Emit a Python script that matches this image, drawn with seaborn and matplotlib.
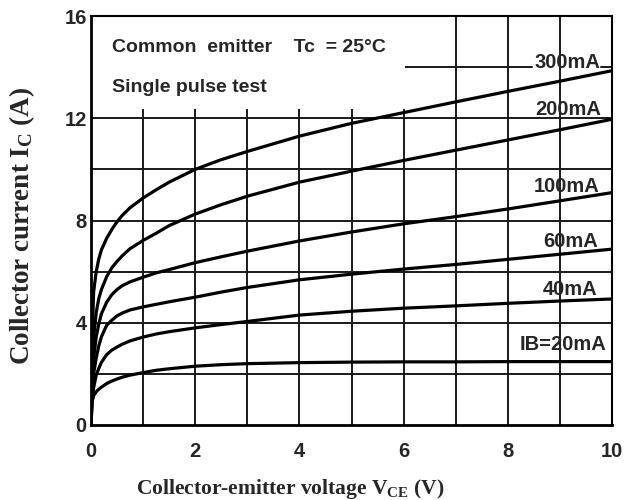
import matplotlib as mpl
mpl.use('Agg')

import numpy as np
import pandas as pd
import seaborn as sns
import matplotlib.pyplot as plt
from matplotlib.patches import Rectangle

# collector-emitter voltage (V)
vce = [0, 0.02, 0.05, 0.1, 0.15, 0.2, 0.3, 0.4, 0.5, 0.6, 0.75, 1, 1.25, 1.5, 2, 2.5, 3,
       4, 5, 6, 7, 8, 9, 10]

# collector current (A) for each base current
ic_20 = [0, 0.9, 1.15, 1.3, 1.4, 1.48, 1.62, 1.72, 1.8, 1.87, 1.95, 2.05, 2.14, 2.2, 2.3, 2.36, 2.4,
         2.44, 2.46, 2.47, 2.47, 2.48, 2.48, 2.48]
ic_40 = [0, 0.9, 1.45, 1.95, 2.22, 2.45, 2.75, 2.93, 3.05, 3.16, 3.29, 3.44, 3.56, 3.65, 3.8, 3.93, 4.05,
         4.3, 4.45, 4.57, 4.66, 4.76, 4.85, 4.93]
ic_60 = [0, 1.2, 2.0, 2.62, 3.1, 3.45, 3.9, 4.1, 4.27, 4.38, 4.5, 4.62, 4.72, 4.82, 5.0, 5.2, 5.38,
         5.68, 5.9, 6.1, 6.28, 6.48, 6.68, 6.88]
ic_100 = [0, 1.5, 2.6, 3.45, 3.95, 4.35, 4.8, 5.1, 5.3, 5.45, 5.6, 5.78, 5.95, 6.08, 6.35, 6.58, 6.8,
          7.2, 7.55, 7.87, 8.15, 8.45, 8.77, 9.09]
ic_200 = [0, 2.0, 3.4, 4.4, 4.95, 5.3, 5.8, 6.15, 6.4, 6.62, 6.9, 7.22, 7.5, 7.8, 8.25, 8.62, 8.95,
          9.5, 9.93, 10.35, 10.75, 11.15, 11.55, 11.96]
ic_300 = [0, 3.2, 5.2, 6.0, 6.5, 6.85, 7.3, 7.65, 7.95, 8.2, 8.5, 8.88, 9.2, 9.5, 10.0, 10.38, 10.7,
          11.3, 11.8, 12.22, 12.64, 13.05, 13.45, 13.86]

curve_labels = ["IB=20mA", "40mA", "60mA", "100mA", "200mA", "300mA"]
curves = [ic_20, ic_40, ic_60, ic_100, ic_200, ic_300]

# label positions (x, y) in data units
label_pos = [(9.06, 3.16), (9.2, 5.29), (9.21, 7.18), (9.12, 9.33), (9.15, 12.35), (9.15, 14.2)]

df = pd.concat([pd.DataFrame({"vce": vce, "ic": c, "ib": lab})
                for lab, c in zip(curve_labels, curves)], ignore_index=True)

sns.set_theme(style="white")
plt.rcParams['font.family'] = ['Liberation Sans', 'DejaVu Sans']
plt.rcParams['mathtext.fontset'] = 'custom'
plt.rcParams['mathtext.rm'] = 'Liberation Serif:bold'
plt.rcParams['mathtext.it'] = 'Liberation Serif:bold'
plt.rcParams['mathtext.bf'] = 'Liberation Serif:bold'

fig = plt.figure(figsize=(6.28, 5.0), dpi=100)
ax = fig.add_axes([91/628, 75/500, 521/628, 409/500])

# grid drawn by hand so the 14 A line can be broken
for xv in range(1, 10):
    ax.axvline(xv, color='k', lw=1.4, zorder=0.5)
for yv in range(2, 13, 2):
    ax.axhline(yv, color='k', lw=1.4, zorder=0.5)
ax.plot([6.0, 8.47], [14, 14], color='k', lw=1.4, zorder=0.5)
ax.plot([9.78, 10], [14, 14], color='k', lw=1.4, zorder=0.5)

# white box behind the test conditions
ax.add_patch(Rectangle((0, 12.35), 6.03, 3.65, facecolor='white', edgecolor='none', zorder=1))

sns.lineplot(data=df, x="vce", y="ic", units="ib", estimator=None, color='black',
             lw=2.3, ax=ax, legend=False, zorder=2)

for lab, (lx, ly) in zip(curve_labels, label_pos):
    ax.text(lx, ly, lab, ha='center', va='center', fontsize=14.5, fontweight='bold', zorder=3)

ax.text(0.4, 14.75, "Common  emitter    Tc  = 25\u00b0C", ha='left', va='center',
        fontsize=14, fontweight='bold', zorder=3)
ax.text(0.4, 13.2, "Single pulse test", ha='left', va='center',
        fontsize=14, fontweight='bold', zorder=3)

ax.set_xlim(0, 10)
ax.set_ylim(0, 16)
ax.set_xticks([0, 2, 4, 6, 8, 10])
ax.set_yticks([0, 4, 8, 12, 16])
ax.tick_params(length=0, labelsize=14.5)
ax.tick_params(axis='x', pad=12)
ax.tick_params(axis='y', pad=3)
for t in ax.get_xticklabels() + ax.get_yticklabels():
    t.set_fontweight('bold')

for side in ['left', 'bottom']:
    ax.spines[side].set_linewidth(2.0)
for side in ['top', 'right']:
    ax.spines[side].set_linewidth(1.5)
for s in ax.spines.values():
    s.set_color('black')

ax.set_xlabel(r"Collector-emitter voltage V$_{\mathrm{CE}}$ (V)", fontsize=15.5,
              fontfamily='Liberation Serif', fontweight='bold', va='top')
ax.set_ylabel(r"Collector current I$_{\mathrm{C}}$ (A)", fontsize=19.5,
              fontfamily='Liberation Serif', fontweight='bold')
ax.xaxis.set_label_coords(0.382, -0.127)
ax.yaxis.set_label_coords(-0.104, 0.487)

fig.savefig("out.png", dpi=100)
